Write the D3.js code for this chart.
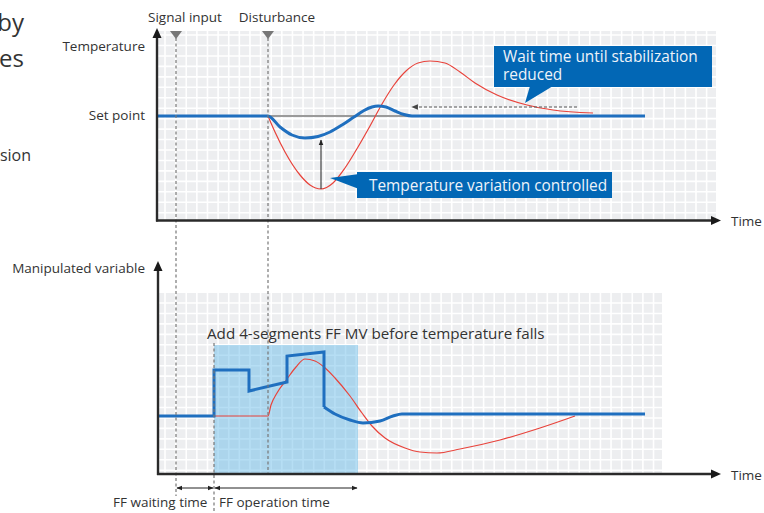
<!DOCTYPE html>
<html><head><meta charset="utf-8">
<script src="https://cdn.jsdelivr.net/npm/d3@7"></script>
<style>
body{margin:0;background:#fff;}
text{font-family:"Open Sans",sans-serif;}
</style>
</head><body>
<svg id="c" width="764" height="513"></svg>
<script>
// ---------- DATA (time t, value) ----------
const topBlue = [[0,0],[55.5,0],[61.5,-5.5],[67.5,-9.5],[74,-11],[80.5,-10.25],[86.5,-8],[92.5,-4.5],[98.5,-0.5],[103.5,2.75],[107.5,4.5],[110.5,5],[114.5,4.5],[119,2.5],[123.5,0.75],[127.5,0],[244,0]];
const topRed = [[55.5,0],[59,-8],[64,-18],[71.5,-29.5],[76.5,-34.5],[82,-36.5],[88,-33.5],[94,-26],[100.5,-15.5],[106.5,-5],[112.5,6],[118.5,15.5],[124.5,22.5],[130.5,26.5],[136.5,27.5],[144,26.5],[151.5,22],[159,16.5],[170,10.5],[185,5.5],[198,3],[218,1.5]];
const setPointRef = [[55.5,0],[127,0]];
const waitArrow = [[210,4.5],[127.5,4.5]];
const variationArrow = [[82,-36.5],[82,-12]];

const mvBlueSteps = [[0.5,0],[28.5,0],[28.5,23],[46,23],[46,12.5],[65,17],[65,30],[83.5,32],[83.5,4.5]];
const mvBlueTail = [[83.5,4.5],[89,1],[96.5,-2],[103,-3.5],[111.5,-2.5],[118,0],[122.5,1],[244,1]];
const mvRed = [[28.5,0],[55.5,0],[57,5.5],[60,11.5],[65,18.5],[69.5,24.5],[74,28.5],[79,27.5],[83.5,24.5],[89,19],[96.5,10],[102.5,1.5],[107.5,-5],[114,-11],[124,-16],[131.5,-18],[140,-18.5],[151.5,-16.5],[171.5,-12],[191.5,-6],[209,0]];

const signalT = 9.5, disturbT = 55.5, ffStartT = 28.5, ffEndT = 100.5;
const ffBox = {t0: ffStartT, t1: ffEndT, u0: -29, u1: 35.5};

const labels = {
  signal: "Signal input", disturb: "Disturbance", temp: "Temperature", sp: "Set point",
  mv: "Manipulated variable", time: "Time",
  wait1: "Wait time until stabilization", wait2: "reduced",
  variation: "Temperature variation controlled",
  ff: "Add 4-segments FF MV before temperature falls",
  ffWait: "FF waiting time", ffOp: "FF operation time"
};
const sideText = ["by","es","sion"];

// ---------- SCALES ----------
const x = d3.scaleLinear().domain([0,280]).range([157,717]);
const yT = d3.scaleLinear().domain([-50,40]).range([216,36]);
const yB = d3.scaleLinear().domain([-25,55]).range([466,306]);

const svg = d3.select("#c");
const defs = svg.append("defs");
function marker(id,color,size){
  defs.append("marker").attr("id",id).attr("viewBox","0 0 10 10").attr("refX",9).attr("refY",5)
    .attr("markerWidth",size).attr("markerHeight",size).attr("orient","auto-start-reverse")
    .append("path").attr("d","M0,1L10,5L0,9Z").attr("fill",color);
}
marker("ab","#222",6);
marker("ag","#444",6);

// ---------- GRID ----------
function grid(x0,x1,y0,y1,yStart,dir){
  const g = svg.append("g");
  g.append("rect").attr("x",x0).attr("y",y0).attr("width",x1-x0).attr("height",y1-y0).attr("fill","#edeef0");
  const pitch = 10.62;
  const vx = d3.range(165, x1, pitch);
  g.selectAll(null).data(vx).enter().append("line")
    .attr("x1",d=>d).attr("x2",d=>d).attr("y1",y0).attr("y2",y1)
    .attr("stroke","#fff").attr("stroke-width",1.6);
  let hy = [];
  if(dir<0){ for(let v=yStart; v>y0; v-=10.45) hy.push(v); }
  else { for(let v=yStart; v<y1; v+=10.45) hy.push(v); }
  g.selectAll(null).data(hy).enter().append("line")
    .attr("y1",d=>d).attr("y2",d=>d).attr("x1",x0).attr("x2",x1)
    .attr("stroke","#fff").attr("stroke-width",1.6);
}
grid(157,716,31,220,212.7,-1);
grid(158,662,293,474,303,1);

// shaded FF region
svg.append("rect")
  .attr("x",x(ffBox.t0)).attr("width",x(ffBox.t1)-x(ffBox.t0))
  .attr("y",yB(ffBox.u1)).attr("height",yB(ffBox.u0)-yB(ffBox.u1))
  .attr("fill","#5db6e6").attr("opacity",0.45);

// ---------- CURVES ----------
const lt = d3.line().x(d=>x(d[0])).y(d=>yT(d[1]));
const lb = d3.line().x(d=>x(d[0])).y(d=>yB(d[1]));
const smooth = d3.curveMonotoneX;

svg.append("path").attr("d",lt(setPointRef)).attr("stroke","#9a9a9a").attr("stroke-width",2).attr("fill","none");
svg.append("path").attr("d",lt.curve(smooth)(topRed)).attr("stroke","#e8433b").attr("stroke-width",1.2).attr("fill","none");
svg.append("path").attr("d",lt.curve(smooth)(topBlue)).attr("stroke","#1f6fbf").attr("stroke-width",3).attr("fill","none");

svg.append("path").attr("d",lb.curve(smooth)(mvRed)).attr("stroke","#e8433b").attr("stroke-width",1.2).attr("fill","none");
svg.append("path").attr("d",lb.curve(d3.curveLinear)(mvBlueSteps)).attr("stroke","#1f6fbf").attr("stroke-width",3).attr("fill","none").attr("stroke-linejoin","miter");
svg.append("path").attr("d",lb.curve(smooth)(mvBlueTail)).attr("stroke","#1f6fbf").attr("stroke-width",3).attr("fill","none");

// arrows in top chart
svg.append("path").attr("d",lt.curve(d3.curveLinear)(waitArrow)).attr("stroke","#555").attr("stroke-width",1.1)
  .attr("stroke-dasharray","3,2").attr("fill","none").attr("marker-end","url(#ag)");
svg.append("path").attr("d",lt.curve(d3.curveLinear)(variationArrow)).attr("stroke","#222").attr("stroke-width",1)
  .attr("fill","none").attr("marker-end","url(#ab)");

// ---------- DASHED EVENT LINES ----------
function vdash(t,y0,y1){
  svg.append("line").attr("x1",x(t)).attr("x2",x(t)).attr("y1",y0).attr("y2",y1)
    .attr("stroke","#777").attr("stroke-width",1.2).attr("stroke-dasharray","3,2.5");
}
vdash(signalT,38,496);
vdash(disturbT,38,474);
vdash(ffStartT,yB(ffBox.u1)-2,513);

// triangles
[signalT,disturbT].forEach(t=>{
  svg.append("path").attr("d",`M${x(t)-6},31L${x(t)+6},31L${x(t)},39Z`).attr("fill","#777");
});

// ---------- AXES ----------
function axes(xa,yBase,yTop,xEnd){
  svg.append("line").attr("x1",xa).attr("x2",xa).attr("y1",yBase+1).attr("y2",yTop+8).attr("stroke","#2a2a2a").attr("stroke-width",2.4);
  svg.append("path").attr("d",`M${xa-4.5},${yTop+10}L${xa},${yTop}L${xa+4.5},${yTop+10}Z`).attr("fill","#1a1a1a");
  svg.append("line").attr("x1",xa-1).attr("x2",xEnd-8).attr("y1",yBase).attr("y2",yBase).attr("stroke","#2a2a2a").attr("stroke-width",2.4);
  svg.append("path").attr("d",`M${xEnd-10},${yBase-4.5}L${xEnd},${yBase}L${xEnd-10},${yBase+4.5}Z`).attr("fill","#1a1a1a");
}
axes(157,220.5,28,721);
axes(158,474,261,721);

// ---------- TEXT ----------
function txt(s,xx,yy,size,anchor,fill){
  return svg.append("text").attr("x",xx).attr("y",yy).attr("font-size",size)
    .attr("text-anchor",anchor||"start").attr("fill",fill||"#333").text(s);
}
txt(sideText[0],24,31,24,"end");
txt(sideText[1],24,67,24,"end");
txt(sideText[2],31,161,16,"end");

txt(labels.signal,x(signalT)+9,22,13.5,"middle");
txt(labels.disturb,x(disturbT)+9,22,13.5,"middle");
txt(labels.temp,145,51,13.5,"end");
txt(labels.sp,145,120,13.5,"end");
txt(labels.mv,145,273,13.5,"end");
txt(labels.time,731,226,13.5,"start");
txt(labels.time,731,480,13.5,"start");
txt(labels.ff,207,339,15.2,"start");

// callouts
const cb = "#0267b5";
svg.append("path").attr("d",`M530,86L553,86L${x(184)},${yT(6.5)}Z`).attr("fill",cb);
svg.append("rect").attr("x",x(168.5)).attr("y",yT(35)).attr("width",x(277.5)-x(168.5)).attr("height",yT(14.5)-yT(35)).attr("fill",cb);
txt(labels.wait1,503,62,15.4,"start","#eef3f9");
txt(labels.wait2,503,80,15.4,"start","#eef3f9");

svg.append("path").attr("d",`M359,174L359,189L${x(86.5)},${yT(-31)}Z`).attr("fill",cb);
svg.append("rect").attr("x",x(100)).attr("y",yT(-28)).attr("width",x(227.5)-x(100)).attr("height",yT(-41)-yT(-28)).attr("fill",cb);
txt(labels.variation,369,191,15.4,"start","#eef3f9");

// double arrows
function dbl(t0,t1,yy){
  svg.append("line").attr("x1",x(t0)+1).attr("x2",x(t1)-1).attr("y1",yy).attr("y2",yy)
    .attr("stroke","#222").attr("stroke-width",1).attr("marker-start","url(#ab)").attr("marker-end","url(#ab)");
}
dbl(signalT,ffStartT,488);
dbl(ffStartT,ffEndT,488);
txt(labels.ffWait,113,507,13.5,"start");
txt(labels.ffOp,219,507,13.5,"start");
</script>
</body></html>
